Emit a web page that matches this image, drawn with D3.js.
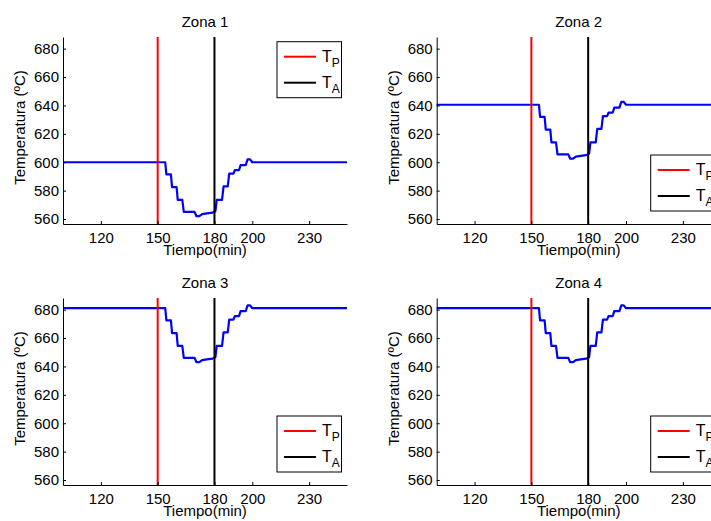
<!DOCTYPE html>
<html>
<head>
<meta charset="utf-8">
<script src="https://cdn.jsdelivr.net/npm/d3@7"></script>
<style>
  html, body { margin: 0; padding: 0; background: #fff; overflow: hidden; }
  svg { display: block; font-family: "Liberation Sans", Arial, Helvetica, sans-serif; }
</style>
</head>
<body>
<svg id="chart" width="711" height="521"></svg>
<script>
// ---- Data ----
const zoneTitles = ["Zona 1", "Zona 2", "Zona 3", "Zona 4"];
const times = [100, 154, 154.6, 157, 157.6, 160, 160.6, 163, 163.8, 169.5, 170.5, 172, 173.5, 176, 179, 180.5, 181.2, 184, 184.8, 187, 187.8, 190, 190.8, 193, 193.8, 196.5, 197.5, 198.8, 200, 250];
const zone1 = [600, 600, 591.5, 591.5, 582.5, 582.5, 573.5, 573.5, 565, 565, 562, 562, 563.5, 564, 564.5, 565.5, 573.5, 573.5, 583, 583, 592, 592, 594.5, 594.5, 598, 598, 602, 602, 600, 600];
const zone2 = [640.5, 640.5, 632, 632, 623, 623, 614, 614, 605.5, 605.5, 602.5, 602.5, 604, 604.5, 605, 606, 614, 614, 623.5, 623.5, 632.5, 632.5, 635, 635, 638.5, 638.5, 642.5, 642.5, 640.5, 640.5];
const zone3 = [681, 681, 672.5, 672.5, 663.5, 663.5, 654.5, 654.5, 646, 646, 643, 643, 644.5, 645, 645.5, 646.5, 654.5, 654.5, 664, 664, 673, 673, 675.5, 675.5, 679, 679, 683, 683, 681, 681];
const zone4 = [681, 681, 672.5, 672.5, 663.5, 663.5, 654.5, 654.5, 646, 646, 643, 643, 644.5, 645, 645.5, 646.5, 654.5, 654.5, 664, 664, 673, 673, 675.5, 675.5, 679, 679, 683, 683, 681, 681];
const zoneSeries = [zone1, zone2, zone3, zone4];
const tP = 150;
const tA = 180;
const xTicks = [120, 150, 180, 200, 230];
const yTicks = [560, 580, 600, 620, 640, 660, 680];
const xDomain = [100, 250];
const yDomain = [556.5, 688.2];
const legendLabels = [{main: "T", sub: "P"}, {main: "T", sub: "A"}];
const legendColors = ["#ff0000", "#000000"];
const legendPlace = ["top", "bottom", "bottom", "bottom"];

// ---- Layout ----
const svg = d3.select("#chart");
const panels = [
  {x0: 63, x1: 347, y0: 37, y1: 224},
  {x0: 436.7, x1: 720.7, y0: 37, y1: 224},
  {x0: 63, x1: 347, y0: 298, y1: 485},
  {x0: 436.7, x1: 720.7, y0: 298, y1: 485}
];
const fs = 15;

panels.forEach((p, i) => {
  const x = d3.scaleLinear().domain(xDomain).range([p.x0, p.x1]);
  const y = d3.scaleLinear().domain(yDomain).range([p.y1, p.y0]);
  const g = svg.append("g");

  // curve
  const pts = times.map((t, k) => [t, zoneSeries[i][k]]);
  g.append("path")
    .datum(pts)
    .attr("fill", "none")
    .attr("stroke", "#0000ff")
    .attr("stroke-width", 2.2)
    .attr("stroke-linejoin", "round")
    .attr("d", d3.line().x(d => x(d[0])).y(d => y(d[1])));

  // vertical lines
  g.append("line")
    .attr("x1", x(tP)).attr("x2", x(tP))
    .attr("y1", y(yDomain[0])).attr("y2", y(yDomain[1]))
    .attr("stroke", "#ff0000").attr("stroke-width", 2);
  g.append("line")
    .attr("x1", x(tA)).attr("x2", x(tA))
    .attr("y1", y(yDomain[0])).attr("y2", y(yDomain[1]))
    .attr("stroke", "#000000").attr("stroke-width", 2);

  // axes (ticks inward)
  const xAxis = d3.axisBottom(x).tickValues(xTicks).tickSizeInner(-3).tickSizeOuter(0).tickPadding(7);
  const yAxis = d3.axisLeft(y).tickValues(yTicks).tickSizeInner(-3).tickSizeOuter(0).tickPadding(5);
  const gx = g.append("g").attr("transform", `translate(0,${p.y1})`).call(xAxis);
  const gy = g.append("g").attr("transform", `translate(${p.x0},0)`).call(yAxis);
  [gx, gy].forEach(a => {
    a.select(".domain").attr("stroke", "#000").attr("stroke-width", 1);
    a.selectAll(".tick line").attr("stroke", "#000");
    a.selectAll(".tick text").attr("font-size", fs).attr("fill", "#000")
      .attr("font-family", "'Liberation Sans', Arial, sans-serif");
  });
  gy.selectAll(".tick text").attr("x", -4);
  gx.selectAll(".tick text").attr("y", 8);

  // title
  g.append("text")
    .attr("x", (p.x0 + p.x1) / 2).attr("y", p.y0 - 10)
    .attr("text-anchor", "middle").attr("font-size", fs)
    .text(zoneTitles[i]);

  // x label
  g.append("text")
    .attr("x", (p.x0 + p.x1) / 2).attr("y", p.y1 + 31)
    .attr("text-anchor", "middle").attr("font-size", fs)
    .text("Tiempo(min)");

  // y label
  g.append("text")
    .attr("transform", `translate(${p.x0 - 38},${(p.y0 + p.y1) / 2 - 3}) rotate(-90)`)
    .attr("text-anchor", "middle").attr("font-size", fs)
    .text("Temperatura (ºC)");

  // legend
  const lw = 64.5, lh = 56;
  const lx = p.x1 - 5.5 - lw;
  const ly = legendPlace[i] === "top" ? p.y0 + 4.7 : p.y1 - 13 - lh;
  const lg = g.append("g").attr("transform", `translate(${lx},${ly})`);
  lg.append("rect").attr("width", lw).attr("height", lh)
    .attr("fill", "#fff").attr("stroke", "#000").attr("stroke-width", 1);
  legendLabels.forEach((lab, k) => {
    const yy = 15 + k * 26;
    lg.append("line").attr("x1", 7).attr("x2", 39).attr("y1", yy).attr("y2", yy)
      .attr("stroke", legendColors[k]).attr("stroke-width", 2);
    const t = lg.append("text").attr("x", 45).attr("y", yy + 5).attr("font-size", 16);
    t.append("tspan").text(lab.main);
    t.append("tspan").attr("font-size", 12).attr("dy", 5).text(lab.sub);
  });
});
</script>
</body>
</html>
